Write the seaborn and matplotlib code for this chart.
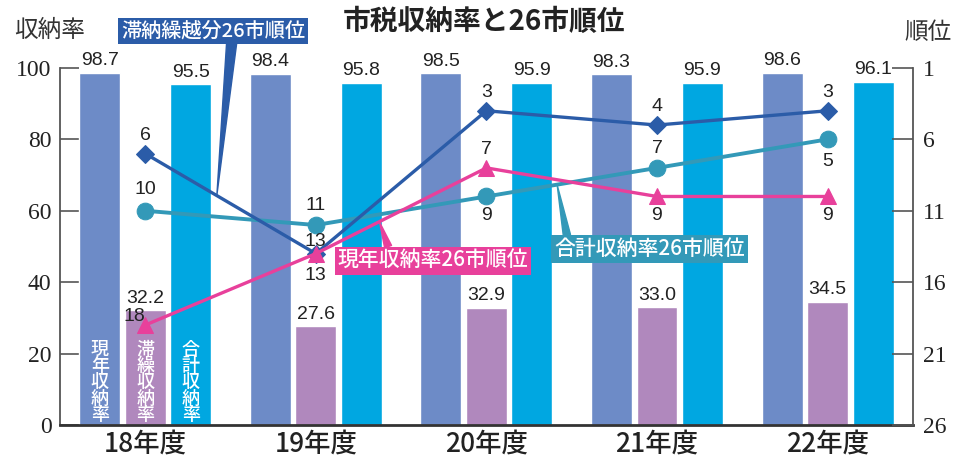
import matplotlib
matplotlib.use("Agg")
import matplotlib.pyplot as plt  # noqa: E402
import numpy as np  # noqa: E402
import pandas as pd  # noqa: E402
import seaborn as sns  # noqa: E402

# =============================================================================
# DATA
# =============================================================================
years = ["18年度", "19年度", "20年度", "21年度", "22年度"]
rate_kinds = ["現年収納率", "滞繰収納率", "合計収納率"]
current_rate = [98.7, 98.4, 98.5, 98.3, 98.6]
arrears_rate = [32.2, 27.6, 32.9, 33.0, 34.5]
total_rate = [95.5, 95.8, 95.9, 95.9, 96.1]

# 26-city ranks (1 = best)
rank_arrears = [6, 13, 3, 4, 3]
rank_current = [18, 13, 7, 9, 9]
rank_total = [10, 11, 9, 7, 5]
rank_ticks = [1, 6, 11, 16, 21, 26]

# =============================================================================
# STYLE
# =============================================================================
BAR_COLORS = ["#6d8bc7", "#b088bd", "#00a7e1"]
BLUE, PINK, TEAL = "#2b5ca8", "#e8409b", "#3399b8"
JP = ["Noto Sans CJK JP", "DejaVu Sans"]
NUM = ["Liberation Sans", "DejaVu Sans"]
SERIF = "Liberation Serif"

sns.set_style("white")
plt.rcParams["font.family"] = JP

df = pd.DataFrame({
    "year": np.repeat(years, len(rate_kinds)),
    "kind": rate_kinds * len(years),
    "value": np.ravel(np.column_stack([current_rate, arrears_rate, total_rate])),
})

fig = plt.figure(figsize=(9.67, 4.62), dpi=100)
ax = fig.add_axes([0.062, 0.080, 0.882, 0.773])

sns.barplot(data=df, x="year", y="value", hue="kind", hue_order=rate_kinds,
            palette=BAR_COLORS, width=0.8, gap=0.1, saturation=1, ax=ax, legend=False)

for cont in ax.containers:
    ax.bar_label(cont, fmt="%.1f", padding=2.5, fontsize=14, family=NUM, color="#222",
                 bbox=dict(boxstyle="square,pad=0.05", fc="white", ec="none"))

# vertical legend text inside the first group of bars
for cont, kind in zip(ax.containers, rate_kinds):
    p = cont.patches[0]
    ax.text(p.get_x() + p.get_width() / 2, 12.0, "\n".join(kind), color="white",
            fontsize=13, ha="center", va="center", linespacing=0.88, fontweight="medium")

ax.set_ylim(0, 100)
ax.set_yticks([0, 20, 40, 60, 80, 100])
ax.set_xlabel("")
ax.set_ylabel("")
ax.tick_params(axis="y", direction="in", length=14, width=1.2, color="#555", pad=6,
               labelsize=17, labelcolor="#222")
for lbl in ax.get_yticklabels():
    lbl.set_fontfamily(SERIF)
ax.set_xticks(np.arange(len(years)) + 0.5, minor=True)
ax.tick_params(axis="x", which="major", length=0, pad=4, labelsize=19, labelcolor="#222")
for lbl in ax.get_xticklabels():
    lbl.set_fontweight("medium")
ax.tick_params(axis="x", which="minor", direction="in", length=6.5, width=1.2, color="#333")
ax.spines["top"].set_visible(False)
ax.spines["right"].set_visible(False)
ax.spines["left"].set_color("#555")
ax.spines["left"].set_linewidth(1.3)
ax.spines["bottom"].set_color("#333")
ax.spines["bottom"].set_linewidth(2)

# =============================================================================
# RANK LINES (right axis)
# =============================================================================
ax2 = ax.twinx()
x_pos = np.arange(len(years))
series = [
    (rank_total, TEAL, "o", 12, 2.8),
    (rank_arrears, BLUE, "D", 9, 2.4),
    (rank_current, PINK, "^", 11, 2.4),
]
for ranks, color, marker, ms, lw in series:
    sns.lineplot(x=x_pos, y=ranks, ax=ax2, color=color, marker=marker, markersize=ms,
                 markeredgecolor=color, lw=lw, legend=False)

# label offsets (points) around each marker
offsets = {
    "arrears": [(0, 13), (0, 9), (0, 13), (0, 13), (0, 13)],
    "total": [(0, 15), (0, 14), (0, -14), (0, 14), (0, -16)],
    "current": [(-8, 6.5), (0, -16), (0, 13), (0, -14), (0, -14)],
}
for ranks, key in [(rank_arrears, "arrears"), (rank_total, "total"), (rank_current, "current")]:
    for x, r, off in zip(x_pos, ranks, offsets[key]):
        ax2.annotate(str(r), (x, r), xytext=off, textcoords="offset points", ha="center",
                     va="center", fontsize=14, family=NUM, color="#222")

# the source chart plots each rank one step above its printed tick; keep that
ax2.set_ylim(25, 0)
ax2.set_yticks(np.array(rank_ticks) - 1)
ax2.set_yticklabels([str(t) for t in rank_ticks], fontfamily=SERIF)
ax2.set_ylabel("")
ax2.tick_params(axis="y", direction="in", length=15, width=1.2, color="#555", pad=7,
                labelsize=17, labelcolor="#222")
for side in ["top", "left", "bottom"]:
    ax2.spines[side].set_visible(False)
ax2.spines["right"].set_color("#555")
ax2.spines["right"].set_linewidth(1.3)
ax.set_xlim(-0.5, len(years) - 0.5)

# callout labels with wedge pointers
callouts = [
    ("滞納繰越分26市順位", BLUE, (0.42, 8.9), (0.40, -2.6), (0.6, 0.0), 0.5, 14.5),
    ("現年収納率26市順位", PINK, (1.374, 10.8), (1.687, 13.5), (0.27, 1.0), 0.35, 15),
    ("合計収納率26市順位", TEAL, (2.415, 8.2), (2.956, 12.7), (0.07, 1.0), 0.35, 15),
]
for text, color, tip, pos, relpos, tw, fs in callouts:
    ax2.annotate(text, xy=tip, xytext=pos, ha="center", va="center", color="white",
                 fontsize=fs, fontweight="medium", zorder=10, annotation_clip=False,
                 bbox=dict(boxstyle="square,pad=0.15", fc=color, ec="none"),
                 arrowprops=dict(arrowstyle=f"wedge,tail_width={tw},shrink_factor=0.5",
                                 fc=color, ec=color, relpos=relpos, shrinkA=0, shrinkB=0))

# titles
fig.text(0.5, 0.952, "市税収納率と26市順位", ha="center", va="center", fontsize=20,
         fontweight="bold", color="#222")
fig.text(0.051, 0.935, "収納率", ha="center", va="center", fontsize=17, color="#333")
fig.text(0.960, 0.930, "順位", ha="center", va="center", fontsize=17, color="#333")

fig.savefig("out.png", dpi=100)
